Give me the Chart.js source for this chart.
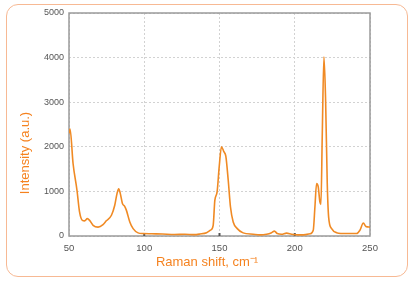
<!DOCTYPE html>
<html>
<head>
<meta charset="utf-8">
<script src="https://cdn.jsdelivr.net/npm/chart.js@4"></script>
<style>
  html, body { margin: 0; padding: 0; background: #fff; }
  #wrap { position: relative; width: 412px; height: 281px; }
  #frame {
    position: absolute; left: 6px; top: 4px; width: 400px; height: 271px;
    border: 1.5px solid #f7b994; border-radius: 12px;
  }
  canvas { position: absolute; left: 0; top: 0; }
</style>
</head>
<body>
<div id="wrap">
  <div id="frame"></div>
  <canvas id="myChart" width="412" height="281"></canvas>
</div>
<script>
// Raman spectrum
var shift = [50, 50.7, 52.7, 55.3, 57, 58.9, 60.4, 62.2, 63.7, 66, 69.3, 72.6, 74.8, 78.2, 80.4, 81.9, 83, 84.1, 85.5, 87,
    88.1, 90.4, 92.6, 95.9, 99.2, 105, 112, 120, 127, 133, 137, 141.4, 144, 145.8, 146.9, 148.4, 149.8, 151.3, 152.9, 154.2,
    155.8, 157.3, 159.1, 161.8, 165.7, 172.4, 176.8, 181.3, 184.6, 186.5, 188.4, 191.2, 194.6, 197.9, 202.3, 205.7, 210.1, 212.3, 213.4, 214.5,
    215.6, 216.7, 217.4, 218.3, 219.4, 220.5, 221.6, 222.5, 224.5, 227.8, 234.5, 241.1, 243.3, 245.6, 247.3, 250];
var intensity = [2300, 2400, 1625, 1026, 540, 350, 340, 390, 350, 240, 200, 255, 340, 465, 690, 950, 1060, 950, 730, 665,
    580, 315, 165, 70, 55, 50, 45, 35, 40, 30, 45, 75, 130, 240, 800, 990, 1550, 2000, 1890, 1790,
    1250, 650, 315, 165, 70, 40, 25, 40, 75, 110, 55, 40, 65, 40, 25, 25, 50, 130, 650, 1175,
    1100, 765, 710, 2300, 4020, 3050, 1175, 430, 165, 75, 55, 55, 130, 290, 215, 200];
var xTitle = "Raman shift, cm\u207B\u00B9";
var yTitle = "Intensity (a.u.)";

var points = shift.map(function(x, i) { return { x: x, y: intensity[i] }; });

var orange = "#f5821f";
var font = "'Liberation Sans', Arial, sans-serif";

// box around the plot, little tick marks and the two axis titles
var decor = {
    id: "decor",
    beforeDatasetsDraw: function(chart) {
        var a = chart.chartArea, ctx = chart.ctx;
        ctx.save();
        ctx.strokeStyle = "#9a9a9a";
        ctx.lineWidth = 1.5;
        ctx.strokeRect(a.left, a.top, a.right - a.left, a.bottom - a.top);
        ctx.strokeStyle = "#555";
        ctx.lineWidth = 2;
        chart.scales.x.ticks.forEach(function(t) {
            if (t.value <= 50 || t.value >= 250) return;
            var px = chart.scales.x.getPixelForValue(t.value);
            ctx.beginPath();
            ctx.moveTo(px, a.bottom);
            ctx.lineTo(px, a.bottom - 3);
            ctx.stroke();
        });
        ctx.restore();
    },
    afterDraw: function(chart) {
        var ctx = chart.ctx;
        ctx.save();
        ctx.fillStyle = orange;
        ctx.font = "13px " + font;
        ctx.textAlign = "center";
        ctx.textBaseline = "middle";
        ctx.fillText(xTitle, 207, 262);
        ctx.translate(25, 153);
        ctx.rotate(-Math.PI / 2);
        ctx.fillText(yTitle, 0, 0);
        ctx.restore();
    }
};

var ctx = document.getElementById("myChart").getContext("2d");
var myChart = new Chart(ctx, {
    type: "line",
    data: {
        datasets: [{
            data: points,
            borderColor: "#f08a24",
            borderWidth: 1.6,
            pointRadius: 0,
            fill: false,
            cubicInterpolationMode: "monotone"
        }]
    },
    options: {
        responsive: false,
        animation: false,
        layout: { padding: { top: 13, right: 42, left: 0, bottom: 0 } },
        scales: {
            x: {
                type: "linear",
                min: 50,
                max: 250,
                afterFit: function(s) { s.height = 45; },
                ticks: { stepSize: 50, padding: 7, color: "#555", font: { size: 9.5, family: font } },
                grid: { color: "#d2d2d2", drawTicks: false },
                border: { display: false, dash: [2, 2] }
            },
            y: {
                min: 0,
                max: 5000,
                afterFit: function(s) { s.width = 69; },
                ticks: {
                    stepSize: 1000, padding: 5, color: "#555", font: { size: 9, family: font },
                    callback: function(v) { return String(v); }
                },
                grid: { color: "#d2d2d2", drawTicks: false },
                border: { display: false, dash: [2, 2] }
            }
        },
        plugins: {
            legend: { display: false },
            tooltip: { enabled: false }
        }
    },
    plugins: [decor]
});
</script>
</body>
</html>
